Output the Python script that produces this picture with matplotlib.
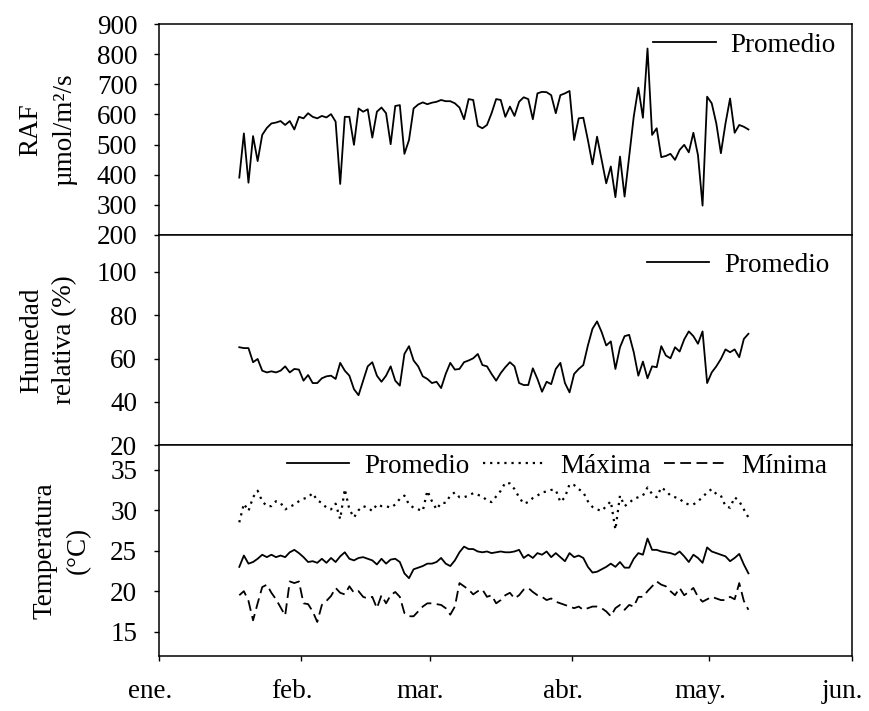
import numpy as np
import pandas as pd
import matplotlib
matplotlib.use('Agg')
import matplotlib.pyplot as plt
import matplotlib.transforms as mtransforms

plt.rcParams['font.family'] = ['Liberation Serif', 'DejaVu Serif']
plt.rcParams['font.size'] = 19.5

# daily series, first day of data
start_date = '2019-01-18 12:00'

# radiacion (RAF), umol/m2/s
raf = [390, 537, 373, 528, 445, 532, 555, 570, 573, 578,
       565, 578, 550, 592, 587, 604, 592, 587, 595, 590,
       601, 576, 369, 592, 592, 499, 620, 609, 617, 523,
       609, 623, 604, 501, 628, 631, 469, 515, 620, 633,
       640, 634, 639, 642, 648, 644, 644, 637, 623, 584,
       651, 648, 562, 554, 565, 604, 651, 648, 592, 626,
       595, 642, 657, 651, 584, 670, 675, 674, 664, 604,
       664, 670, 678, 515, 587, 589, 515, 434, 526, 449,
       371, 427, 325, 460, 327, 460, 593, 689, 589, 819,
       532, 554, 458, 462, 469, 449, 482, 499, 474, 539,
       465, 297, 659, 637, 570, 471, 570, 653, 539, 565,
       559, 550]

# humedad relativa (%)
hum = [65.2, 64.8, 64.8, 58.3, 59.8, 54.4, 53.6, 54.1, 53.6, 54.4,
       56.4, 53.6, 55.2, 54.9, 49.8, 52.4, 48.7, 48.7, 50.9, 51.8,
       52.1, 50.6, 58.0, 54.4, 52.1, 45.9, 43.1, 49.8, 56.4, 58.3,
       52.1, 49.3, 52.1, 56.4, 49.8, 47.5, 62.1, 65.7, 59.1, 56.4,
       51.8, 50.6, 48.7, 49.3, 46.4, 52.9, 58.0, 54.9, 55.2, 58.3,
       59.1, 60.1, 62.1, 57.0, 56.4, 52.9, 49.8, 53.3, 56.0, 58.3,
       56.4, 48.7, 47.8, 47.8, 55.5, 50.6, 44.7, 49.3, 48.2, 55.2,
       58.0, 48.7, 44.4, 52.9, 55.2, 57.0, 66.0, 73.7, 77.1, 72.2,
       66.0, 67.9, 55.2, 65.2, 70.3, 70.9, 62.9, 52.1, 58.6, 50.9,
       56.4, 56.0, 65.7, 61.4, 60.1, 65.2, 63.2, 68.8, 72.5, 70.3,
       66.8, 72.5, 48.7, 53.6, 56.4, 59.8, 64.2, 62.9, 64.2, 60.6,
       69.0, 71.4]

# temperatura (C)
t_prom = [23.0, 24.4, 23.4, 23.6, 24.0, 24.5, 24.2, 24.5, 24.2, 24.4,
          24.2, 24.8, 25.1, 24.7, 24.2, 23.6, 23.7, 23.5, 24.0, 23.5,
          24.1, 23.6, 24.3, 24.8, 24.0, 23.8, 24.1, 24.2, 24.0, 23.8,
          23.3, 24.0, 23.4, 23.9, 24.0, 23.6, 22.2, 21.6, 22.7, 22.9,
          23.1, 23.4, 23.4, 23.6, 24.1, 23.4, 23.1, 23.8, 24.8, 25.5,
          25.2, 25.2, 24.9, 24.8, 24.9, 24.7, 24.8, 24.9, 24.8, 24.8,
          24.9, 25.1, 24.1, 24.5, 24.1, 24.7, 24.5, 24.9, 24.2, 24.7,
          24.2, 23.7, 24.7, 24.2, 24.4, 24.1, 23.0, 22.3, 22.4, 22.7,
          23.0, 23.4, 23.0, 23.6, 22.9, 22.9, 24.0, 24.7, 24.5, 26.5,
          25.1, 25.1, 24.9, 24.8, 24.7, 24.5, 24.9, 24.3, 23.6, 24.5,
          24.1, 23.5, 25.4, 24.9, 24.7, 24.5, 24.3, 23.7, 24.1, 24.6,
          23.3, 22.2]

t_max = [28.5, 30.8, 29.9, 31.6, 32.4, 31.1, 30.5, 30.5, 31.1, 30.9,
         30.1, 30.4, 30.7, 31.1, 31.4, 31.6, 32.1, 31.2, 30.9, 30.3,
         30.1, 30.8, 28.9, 32.6, 30.1, 29.1, 30.0, 30.5, 30.3, 29.9,
         30.7, 30.5, 30.5, 30.3, 30.7, 31.4, 31.8, 30.7, 30.3, 30.1,
         29.9, 32.4, 31.1, 30.1, 30.9, 30.9, 31.8, 32.2, 31.6, 31.6,
         31.8, 32.1, 31.9, 31.7, 31.2, 31.0, 31.7, 32.4, 33.4, 33.3,
         32.6, 31.6, 30.8, 31.0, 31.5, 31.8, 32.2, 32.3, 32.5, 32.5,
         31.0, 31.6, 33.2, 33.1, 32.6, 32.2, 31.1, 30.4, 30.1, 29.9,
         30.5, 31.1, 27.6, 31.8, 30.5, 30.9, 31.4, 31.6, 31.8, 32.8,
         32.0, 31.6, 32.8, 32.4, 31.8, 31.6, 31.4, 30.9, 30.7, 30.7,
         31.1, 31.6, 32.2, 32.6, 32.0, 31.8, 30.5, 30.3, 31.6, 31.1,
         30.1, 29.1]

t_min = [19.5, 20.0, 18.8, 16.4, 18.5, 20.5, 20.8, 19.8, 19.0, 18.0,
         17.0, 21.2, 21.0, 21.2, 18.5, 18.4, 17.5, 16.2, 18.3, 18.8,
         19.4, 20.4, 19.8, 19.6, 20.6, 19.8, 20.0, 19.3, 19.1, 19.3,
         17.9, 19.5, 18.5, 19.5, 19.9, 19.3, 17.3, 16.9, 16.9, 17.5,
         18.1, 18.5, 18.5, 18.4, 18.3, 17.9, 17.1, 18.1, 21.0, 20.6,
         20.2, 19.6, 20.0, 20.2, 19.3, 19.5, 18.5, 18.9, 19.5, 19.8,
         19.1, 19.5, 20.2, 20.4, 19.9, 19.5, 19.3, 18.9, 19.1, 18.7,
         18.5, 18.3, 18.1, 17.9, 18.1, 17.7, 17.9, 18.1, 18.1, 17.9,
         17.5, 16.9, 17.9, 18.3, 17.7, 18.3, 18.1, 19.3, 19.3, 20.0,
         20.6, 21.2, 20.8, 20.6, 20.0, 19.5, 20.4, 19.5, 19.9, 20.4,
         19.3, 18.7, 19.0, 19.3, 19.1, 18.9, 18.9, 19.3, 19.0, 21.0,
         18.8, 17.7]

month_ticks = ['2019-01-01', '2019-02-01', '2019-03-01',
               '2019-04-01', '2019-05-01', '2019-06-01']
month_labels = ['ene.', 'feb.', 'mar.', 'abr.', 'may.', 'jun.']

dates = pd.date_range(start_date, periods=len(raf), freq='D')

fig, (ax1, ax2, ax3) = plt.subplots(3, 1, figsize=(8.69, 7.11), dpi=100,
                                    sharex=True, gridspec_kw={'hspace': 0})
fig.subplots_adjust(left=0.183, right=0.98, top=0.966, bottom=0.0774)

lw = 1.3
ax1.plot(dates, raf, color='k', lw=lw, label='Promedio')
ax2.plot(dates, hum, color='k', lw=lw, label='Promedio')
ax3.plot(dates, t_prom, color='k', lw=lw, label='Promedio')
ax3.plot(dates, t_max, color='k', lw=1.6, dashes=(1, 2.2), label='Máxima')
ax3.plot(dates, t_min, color='k', lw=lw, dashes=(6, 3), label='Mínima')

ax1.set_ylim(200, 900)
ax1.set_yticks(range(200, 901, 100))
ax2.set_ylim(20, 117)
ax2.set_yticks([20, 40, 60, 80, 100])
ax3.set_ylim(12, 38)
ax3.set_yticks([15, 20, 25, 30, 35])

ax3.set_xlim(pd.Timestamp(month_ticks[0]), pd.Timestamp(month_ticks[-1]))
ax3.set_xticks(pd.to_datetime(month_ticks))
ax3.set_xticklabels(month_labels)

ax1.set_ylabel('RAF\nµmol/m²/s', linespacing=1.45, labelpad=14)
ax2.set_ylabel('Humedad\nrelativa (%)', linespacing=1.45, labelpad=14)
ax3.set_ylabel('Temperatura\n(°C)', linespacing=1.45, labelpad=14)

for ax in (ax1, ax2, ax3):
    for sp in ax.spines.values():
        sp.set_linewidth(1.1)
    ax.tick_params(axis='y', direction='out', length=3.6, width=1, pad=12)
for ax in (ax1, ax2):
    ax.tick_params(axis='x', bottom=False, labelbottom=False)
ax3.tick_params(axis='x', direction='out', length=3.6, width=1, pad=13)

# month labels sit a little left of their ticks in the original
shift = mtransforms.ScaledTranslation(-9 / 100, 0, fig.dpi_scale_trans)
for tick in ax3.xaxis.get_major_ticks():
    tick.label1.set_transform(tick.label1.get_transform() + shift)

leg_kw = dict(frameon=False, loc='center right', borderpad=0, borderaxespad=0,
              handlelength=2.3, handletextpad=0.55)
ax1.legend(bbox_to_anchor=(0.977, 0.90), **leg_kw)
ax2.legend(bbox_to_anchor=(0.968, 0.856), **leg_kw)
ax3.legend(bbox_to_anchor=(0.965, 0.90), ncol=3, columnspacing=0.5, **leg_kw)

plt.savefig('out.png', dpi=100)
